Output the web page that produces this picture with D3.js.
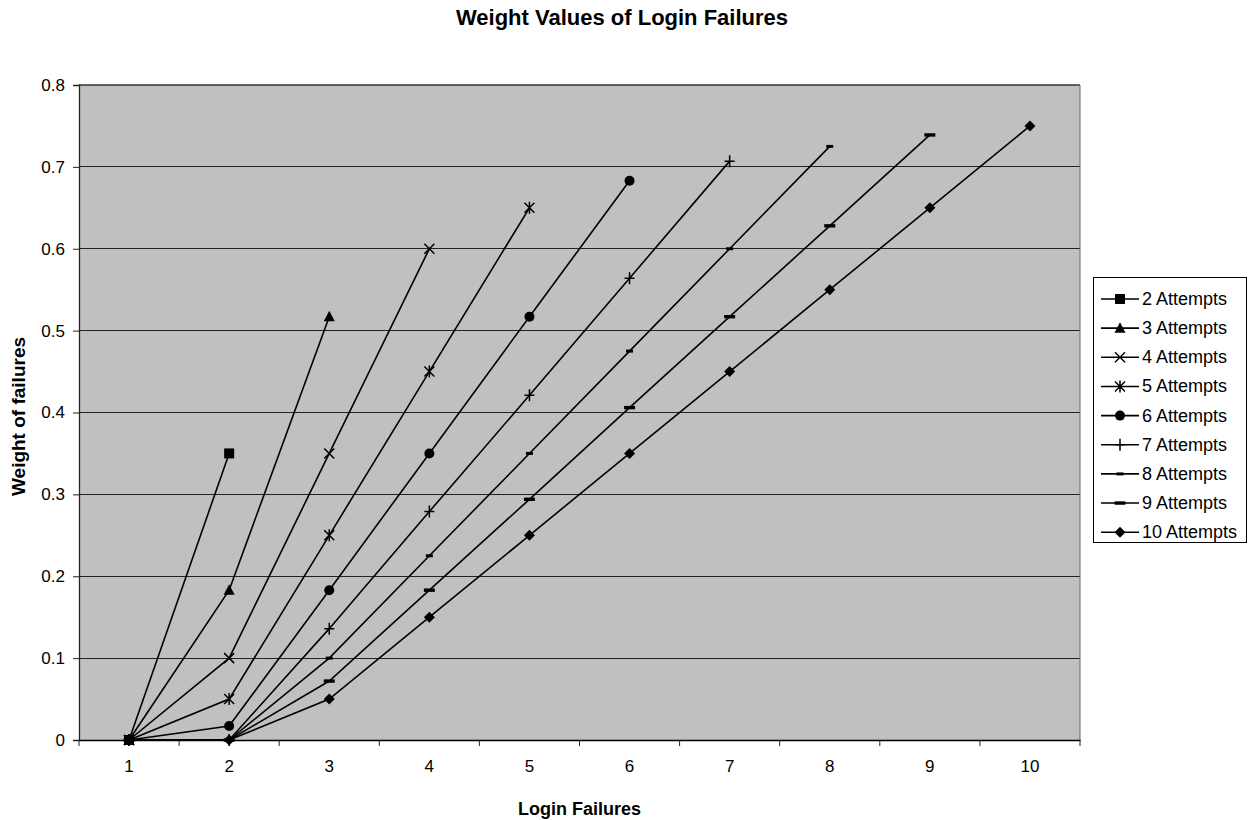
<!DOCTYPE html>
<html><head><meta charset="utf-8">
<script src="https://cdn.jsdelivr.net/npm/d3@7"></script>
<style>
html,body{margin:0;padding:0;background:#fff;}
svg{display:block;font-family:"Liberation Sans",Arial,sans-serif;}
</style></head>
<body>
<svg id="chart" width="1249" height="820"></svg>
<script>
const categories = [1,2,3,4,5,6,7,8,9,10];
const seriesNames = ["2 Attempts","3 Attempts","4 Attempts","5 Attempts","6 Attempts","7 Attempts","8 Attempts","9 Attempts","10 Attempts"];
const markerTypes = ["square","triangle","x","asterisk","circle","plus","dashShort","dashLong","diamond"];
const s2  = [0, 0.35];
const s3  = [0, 0.183, 0.517];
const s4  = [0, 0.1, 0.35, 0.6];
const s5  = [0, 0.05, 0.25, 0.45, 0.65];
const s6  = [0, 0.017, 0.183, 0.35, 0.517, 0.683];
const s7  = [0, 0, 0.136, 0.279, 0.421, 0.564, 0.707];
const s8  = [0, 0, 0.1, 0.225, 0.35, 0.475, 0.6, 0.725];
const s9  = [0, 0, 0.072, 0.183, 0.294, 0.406, 0.517, 0.628, 0.739];
const s10 = [0, 0, 0.05, 0.15, 0.25, 0.35, 0.45, 0.55, 0.65, 0.75];
const seriesValues = [s2,s3,s4,s5,s6,s7,s8,s9,s10];
const yTicks = [0,0.1,0.2,0.3,0.4,0.5,0.6,0.7,0.8];
const yTickLabels = ["0","0.1","0.2","0.3","0.4","0.5","0.6","0.7","0.8"];

const svg = d3.select("#chart");
const L = 79, R = 1080, T = 85, B = 740;
const x = d3.scaleBand().domain(categories).range([L, R]).padding(0);
const cx = c => x(c) + x.bandwidth()/2;
const y = d3.scaleLinear().domain([0, 0.8]).range([B, T]);

// plot background
svg.append("rect").attr("x",L).attr("y",T).attr("width",R-L).attr("height",B-T).attr("fill","#c0c0c0");

// gridlines
svg.append("g").selectAll("line").data(yTicks.filter(v=>v>0 && v<0.8)).join("line")
  .attr("x1",L).attr("x2",R).attr("y1",d=>y(d)).attr("y2",d=>y(d))
  .attr("stroke","#222").attr("stroke-width",1).attr("shape-rendering","crispEdges");

// borders
svg.append("line").attr("x1",L).attr("x2",R).attr("y1",T).attr("y2",T).attr("stroke","#333").attr("stroke-width",1.5);
svg.append("line").attr("x1",R).attr("x2",R).attr("y1",T).attr("y2",B).attr("stroke","#666").attr("stroke-width",1);

// y axis
const yAxis = d3.axisLeft(y).tickValues(yTicks).tickSize(6).tickPadding(8).tickFormat((d,i)=>yTickLabels[i]);
const yg = svg.append("g").attr("transform",`translate(${L},0)`).call(yAxis);
yg.select(".domain").attr("stroke","#222").attr("stroke-width",1.3);
yg.selectAll(".tick line").attr("stroke","#222");
yg.selectAll("text").attr("font-size",17).attr("font-family","'Liberation Sans',Arial,sans-serif").attr("fill","#000");

// x axis
const xAxis = d3.axisBottom(x).tickSize(0).tickPadding(20);
const xg = svg.append("g").attr("transform",`translate(0,${B})`).call(xAxis);
xg.select(".domain").attr("stroke","#000").attr("stroke-width",1.3);
xg.selectAll("text").attr("font-size",17).attr("font-family","'Liberation Sans',Arial,sans-serif").attr("fill","#000");
// boundary ticks
const bounds = categories.map(c=>x(c)).concat([R]);
svg.append("g").selectAll("line").data(bounds).join("line")
  .attr("x1",d=>d).attr("x2",d=>d).attr("y1",B).attr("y2",B+6)
  .attr("stroke","#222").attr("stroke-width",1);

// markers
function markerPath(type){
  switch(type){
    case "square": return "M-5,-5H5V5H-5Z";
    case "triangle": return "M0,-6L5.5,4.5H-5.5Z";
    case "x": return "M-5,-5L5,5M5,-5L-5,5";
    case "asterisk": return "M-5,-5L5,5M5,-5L-5,5M0,-6V6";
    case "circle": return "M5,0A5,5 0 1 1 -5,0A5,5 0 1 1 5,0Z";
    case "plus": return "M-5,0H5M0,-6V6";
    case "dashShort": return "M-3.5,-1.5H3.5V1.5H-3.5Z";
    case "dashLong": return "M-5.5,-1.7H5.5V1.7H-5.5Z";
    case "diamond": return "M0,-5.5L5.5,0L0,5.5L-5.5,0Z";
  }
}
const strokeTypes = new Set(["x","asterisk","plus"]);
function drawMarker(g, type, px, py){
  const p = g.append("path").attr("d", markerPath(type)).attr("transform",`translate(${px},${py})`);
  if (strokeTypes.has(type)) p.attr("fill","none").attr("stroke","#000").attr("stroke-width",1.5);
  else p.attr("fill","#000").attr("stroke","none");
}

const line = d3.line().x((d,i)=>cx(categories[i])).y(d=>y(d));
const linesG = svg.append("g");
seriesValues.forEach(vals=>{
  linesG.append("path").attr("d",line(vals)).attr("fill","none").attr("stroke","#000").attr("stroke-width",1.6);
});
const markG = svg.append("g");
seriesValues.forEach((vals,si)=>{
  vals.forEach((v,i)=>drawMarker(markG, markerTypes[si], cx(categories[i]), y(v)));
});

// titles
svg.append("text").attr("x",622).attr("y",25).attr("text-anchor","middle")
  .attr("font-size",22).attr("font-weight","bold").text("Weight Values of Login Failures");
svg.append("text").attr("x",(L+R)/2).attr("y",815).attr("text-anchor","middle")
  .attr("font-size",18).attr("font-weight","bold").text("Login Failures");
svg.append("text").attr("transform",`translate(25,${(T+B)/2+4}) rotate(-90)`).attr("text-anchor","middle")
  .attr("font-size",19).attr("font-weight","bold").text("Weight of failures");

// legend
const lg = svg.append("g");
lg.append("rect").attr("x",1093.5).attr("y",277.5).attr("width",153).attr("height",265)
  .attr("fill","#fff").attr("stroke","#000").attr("stroke-width",1);
seriesNames.forEach((name,i)=>{
  const ly = 299 + i*29.15;
  lg.append("line").attr("x1",1101).attr("x2",1139).attr("y1",ly).attr("y2",ly).attr("stroke","#000").attr("stroke-width",1.6);
  drawMarker(lg, markerTypes[i], 1120, ly);
  lg.append("text").attr("x",1142).attr("y",ly+6).attr("font-size",18).text(name);
});
</script>
</body></html>
